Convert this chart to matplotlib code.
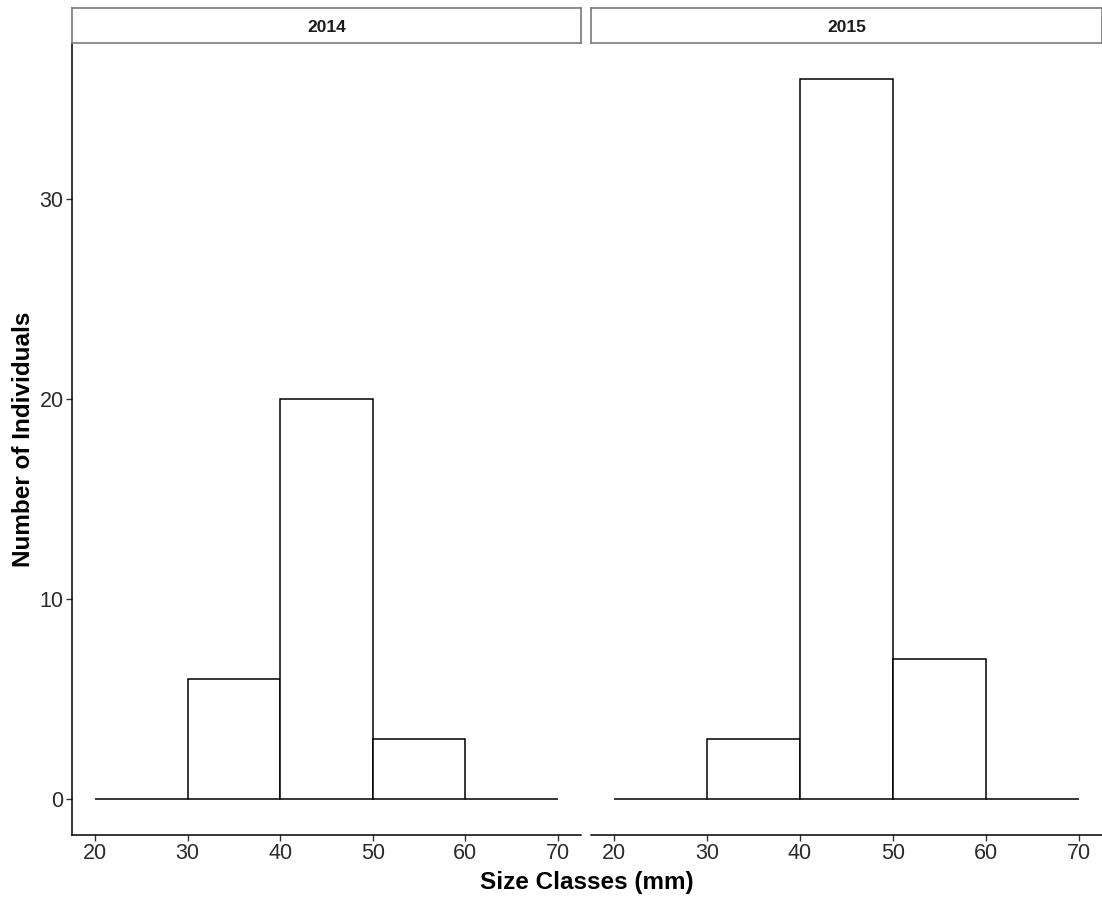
import matplotlib
matplotlib.use("Agg")
import matplotlib.pyplot as plt
import numpy as np

plt.rcParams["font.family"] = ["Liberation Sans", "DejaVu Sans"]

# size-class bins (mm) and counts per survey year
BIN_EDGES = [20, 30, 40, 50, 60, 70]
YEARS = ["2014", "2015"]
COUNTS_2014 = [0, 6, 20, 3, 0]
COUNTS_2015 = [0, 3, 36, 7, 0]
X_TICKS = [20, 30, 40, 50, 60, 70]
Y_TICKS = [0, 10, 20, 30]

W, H = 1102, 899
fig = plt.figure(figsize=(W / 100, H / 100), dpi=100)

panels = [(72, 581), (591, 1102)]
ax_top, ax_bot = 43, 835
strip_top = 8

all_counts = [COUNTS_2014, COUNTS_2015]
ymax = max(max(c) for c in all_counts)
xr = BIN_EDGES[-1] - BIN_EDGES[0]

tick_col = "#333333"
for i, ((x0, x1), year, counts) in enumerate(zip(panels, YEARS, all_counts)):
    ax = fig.add_axes([x0 / W, 1 - ax_bot / H, (x1 - x0) / W, (ax_bot - ax_top) / H])
    lefts = np.array(BIN_EDGES[:-1])
    widths = np.diff(BIN_EDGES)
    ax.bar(lefts, counts, width=widths, align="edge", facecolor="white",
           edgecolor="black", linewidth=1.1)
    ax.set_xlim(BIN_EDGES[0] - 0.05 * xr, BIN_EDGES[-1] + 0.05 * xr)
    ax.set_ylim(-0.05 * ymax, ymax * 1.05)
    ax.set_xticks(X_TICKS)
    ax.set_yticks(Y_TICKS)
    ax.tick_params(axis="both", labelsize=15.5, colors=tick_col, length=4, width=1,
                   labelcolor="#2b2b2b", pad=2)
    for side in ("top", "right"):
        ax.spines[side].set_visible(False)
    ax.spines["bottom"].set_linewidth(1.1)
    ax.spines["left"].set_linewidth(1.1)
    if i == 1:
        ax.spines["left"].set_visible(False)
        ax.tick_params(axis="y", left=False, labelleft=False)

    # facet strip
    sax = fig.add_axes([x0 / W, 1 - ax_top / H, (x1 - x0) / W, (ax_top - strip_top) / H])
    sax.set_xticks([])
    sax.set_yticks([])
    for sp in sax.spines.values():
        sp.set_color("#7a7a7a")
        sp.set_linewidth(1.2)
    sax.text(0.5, 0.45, year, ha="center", va="center", fontsize=12.5,
             fontweight="bold", color="#1a1a1a", transform=sax.transAxes)

fig.text(587 / W, 1 - 882 / H, "Size Classes (mm)", ha="center", va="center",
         fontsize=17.5, fontweight="bold")
fig.text(24 / W, 1 - 439 / H, "Number of Individuals", ha="center", va="center",
         rotation=90, fontsize=17.5, fontweight="bold")

fig.savefig("out.png", dpi=100)
